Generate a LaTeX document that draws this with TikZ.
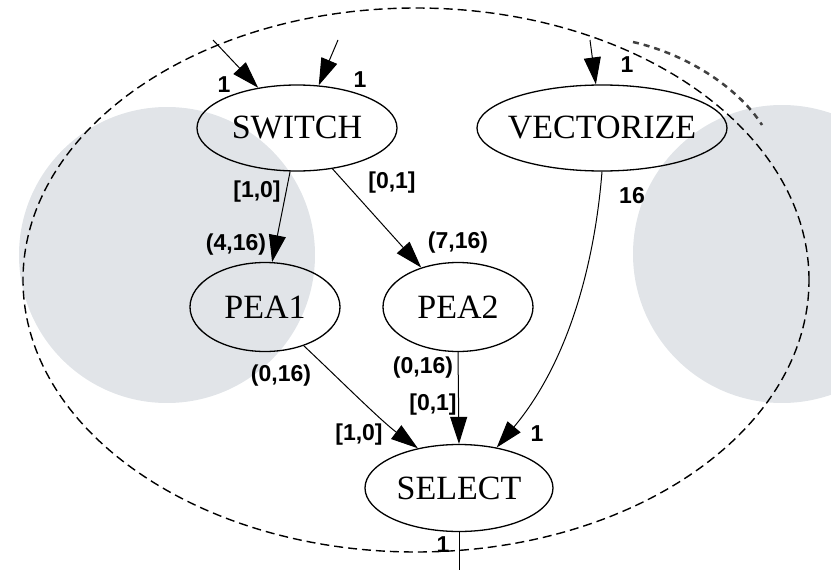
\documentclass[tikz,border=0pt]{standalone}
\usepackage{fontspec}
\usepackage{tikz}
\usetikzlibrary{shapes.geometric,arrows.meta}
\newfontfamily\actorfont{Liberation Serif}
\newfontfamily\ratefont{Liberation Sans}
\definecolor{disc}{RGB}{225,228,232}
\tikzstyle{actor} = [ellipse,draw,line width=1.3pt,inner sep=0pt,font=\actorfont\fontsize{34}{36}\selectfont]
\tikzstyle{rate} = [inner sep=0pt,font=\ratefont\bfseries\fontsize{23}{25}\selectfont]
\tikzstyle{flow} = [line width=1pt]

\begin{document}
\begin{tikzpicture}[x=1pt,y=-1pt,>={Triangle[length=27pt,width=17pt]}]
	\useasboundingbox (0,0) rectangle (831,570);
	\fill[disc] (167,255) circle (148pt);
	\fill[disc] (782,254) circle (149pt);
	\draw[line width=1.4pt,dash pattern=on 9pt off 5pt] (416,280) ellipse [x radius=393pt,y radius=272pt];
	\draw[gray!50!black,line width=2.5pt,dash pattern=on 6pt off 5pt] (633,42) .. controls (690,55) and (740,90) .. (762,125);

	\node[actor,minimum width=200pt,minimum height=86pt] (switch) at (297,128) {SWITCH};
	\node[actor,minimum width=250pt,minimum height=86pt,inner xsep=-8pt] (vectorize) at (602,128) {VECTORIZE};
	\node[actor,minimum width=150pt,minimum height=89pt] (pea1) at (265,307) {PEA1};
	\node[actor,minimum width=150pt,minimum height=89pt] (pea2) at (458,307) {PEA2};
	\node[actor,minimum width=188pt,minimum height=87pt] (select) at (459,488) {SELECT};

	\coordinate (in1) at (213,40);
	\coordinate (in2) at (338,40);
	\coordinate (in3) at (590,40);
	\coordinate (out) at (459,570);

	\draw[flow,->] (in1) -- (switch.134);
	\draw[flow,->] (in2) -- (switch.63);
	\draw[flow,->] (in3) -- (vectorize.98);
	\draw[flow,->] (switch.261) -- (pea1.81);
	\draw[flow,->] (switch.311) -- (pea2.133);
	\draw[flow,->] (pea1.315) .. controls (335,375) and (380,420) .. (select.136);
	\draw[flow,->] (pea2.south) -- (select.north);
	\draw[flow,->] (vectorize.south) .. controls (595,260) and (570,360) .. (select.47);
	\draw[flow] (select.south) -- (out);

	\node[rate] (r-sw-a) at (224,85) {1};
	\node[rate] (r-sw-b) at (360,80) {1};
	\node[rate] (r-vec-in) at (627,65) {1};
	\node[rate] (r-sw-p1) at (257,192) {[1,0]};
	\node[rate] (r-sw-p2) at (392,183) {[0,1]};
	\node[rate] (r-p1-in) at (236,245) {(4,16)};
	\node[rate] (r-p2-in) at (458,243) {(7,16)};
	\node[rate] (r-vec-out) at (632,196) {16};
	\node[rate] (r-p1-out) at (281,376) {(0,16)};
	\node[rate] (r-p2-out) at (423,368) {(0,16)};
	\node[rate] (r-sel-b) at (433,405) {[0,1]};
	\node[rate] (r-sel-a) at (359,435) {[1,0]};
	\node[rate] (r-sel-c) at (537,434) {1};
	\node[rate] (r-sel-out) at (443,545) {1};
\end{tikzpicture}
\end{document}
